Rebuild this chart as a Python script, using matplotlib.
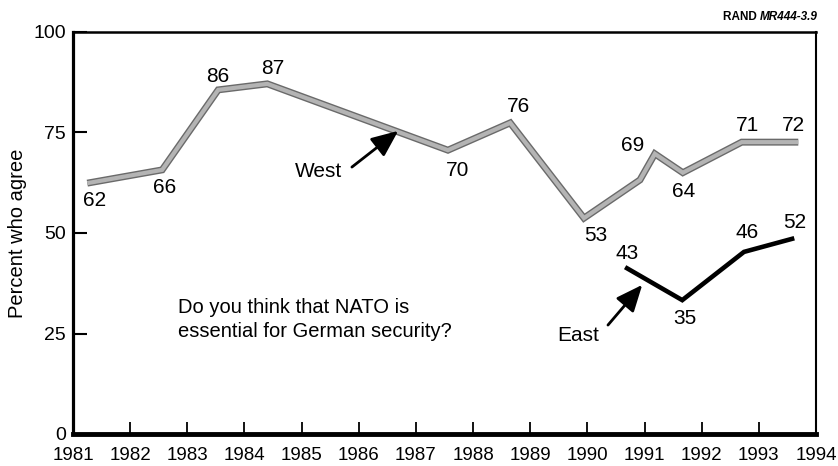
import matplotlib.pyplot as plt
import matplotlib.patheffects as pe

plt.rcParams['font.family'] = ['Liberation Sans', 'DejaVu Sans']

# West: positions, plus the printed labels
west_years = [1981.25, 1982.56, 1983.54, 1984.4, 1987.56, 1988.65, 1989.94, 1990.92, 1991.18, 1991.67, 1992.7, 1993.69]
west_pct = [62.4, 65.7, 85.6, 87.1, 70.6, 77.4, 53.7, 63.2, 69.7, 65.0, 72.6, 72.6]
west_labels = ['62', '66', '86', '87', '70', '76', '53', None, '69', '64', '71', '72']

east_years = [1990.66, 1991.66, 1992.74, 1993.62]
east_pct = [41.5, 33.3, 45.3, 48.7]
east_labels = ['43', '35', '46', '52']

year_ticks = list(range(1981, 1995))
pct_ticks = [0, 25, 50, 75, 100]

# label offsets in pixels (dx, dy)
west_offsets = [(7, -17), (2, -18), (0, 13), (5, 15), (10, -20), (8, 16), (12, -17), None,
                (-22, 8), (1, -19), (6, 17), (-5, 17)]
east_offsets = [(2, 14), (3, -18), (3, 19), (0, 16)]

fig = plt.figure(figsize=(8.38, 4.66), dpi=100)
ax = fig.add_axes([73/838, 1-434/466, (816-73)/838, (434-32)/466])

ax.plot(west_years, west_pct, color='#b4b4b4', linewidth=3, solid_joinstyle='miter',
        solid_capstyle='butt',
        path_effects=[pe.Stroke(linewidth=5, foreground='#6a6a6a'), pe.Normal()])
ax.plot(east_years, east_pct, color='black', linewidth=3.3, solid_joinstyle='miter',
        solid_capstyle='butt')

for x, y, lab, off in zip(west_years, west_pct, west_labels, west_offsets):
    if lab is None:
        continue
    ax.annotate(lab, (x, y), xytext=off, textcoords='offset pixels',
                ha='center', va='center', fontsize=15)
for x, y, lab, off in zip(east_years, east_pct, east_labels, east_offsets):
    ax.annotate(lab, (x, y), xytext=off, textcoords='offset pixels',
                ha='center', va='center', fontsize=15)

ax.set_xlim(1981, 1994)
ax.set_ylim(0, 100)
ax.set_xticks(year_ticks)
ax.set_xticklabels([str(y) for y in year_ticks], fontsize=13.5)
ax.set_yticks(pct_ticks)
ax.set_yticklabels([str(p) for p in pct_ticks], fontsize=14)
ax.tick_params(axis='x', direction='in', length=9, width=1.3, pad=9)
ax.tick_params(axis='y', direction='in', length=10, width=1.5, pad=5)

ax.spines['left'].set_linewidth(2.3)
ax.spines['bottom'].set_linewidth(3.5)
ax.spines['top'].set_linewidth(1.8)
ax.spines['right'].set_linewidth(1.5)

fig.text(18/838, 0.5, 'Percent who agree', rotation=90, ha='center', va='center', fontsize=14.5)

# arrows and series names
arrow = dict(arrowstyle='-|>,head_length=0.65,head_width=0.28', mutation_scale=25,
             lw=2, color='black', shrinkA=0, shrinkB=0)
ax.text(1985.29, 65.2, 'West', ha='center', va='center', fontsize=15)
ax.annotate('', xy=(1986.69, 75.4), xytext=(1985.88, 66.4), arrowprops=arrow)
ax.text(1989.84, 24.6, 'East', ha='center', va='center', fontsize=15)
ax.annotate('', xy=(1990.96, 37.1), xytext=(1990.36, 27.1), arrowprops=arrow)

ax.text(1982.84, 28.5, 'Do you think that NATO is\nessential for German security?',
        ha='left', va='center', fontsize=14.5, linespacing=1.3)

fig.text(818/838, 1-17/466, 'RAND ', ha='right', va='center', fontsize=8.5, fontweight='bold')
t = fig.text(818/838, 1-17/466, 'MR444-3.9', ha='right', va='center', fontsize=8.5,
             fontweight='bold', style='italic')
# put "RAND " left of the italic part
fig.canvas.draw()
bb = t.get_window_extent()
fig.texts[-2].set_x(bb.x0 / fig.bbox.width)

fig.savefig('out.png', dpi=100)
